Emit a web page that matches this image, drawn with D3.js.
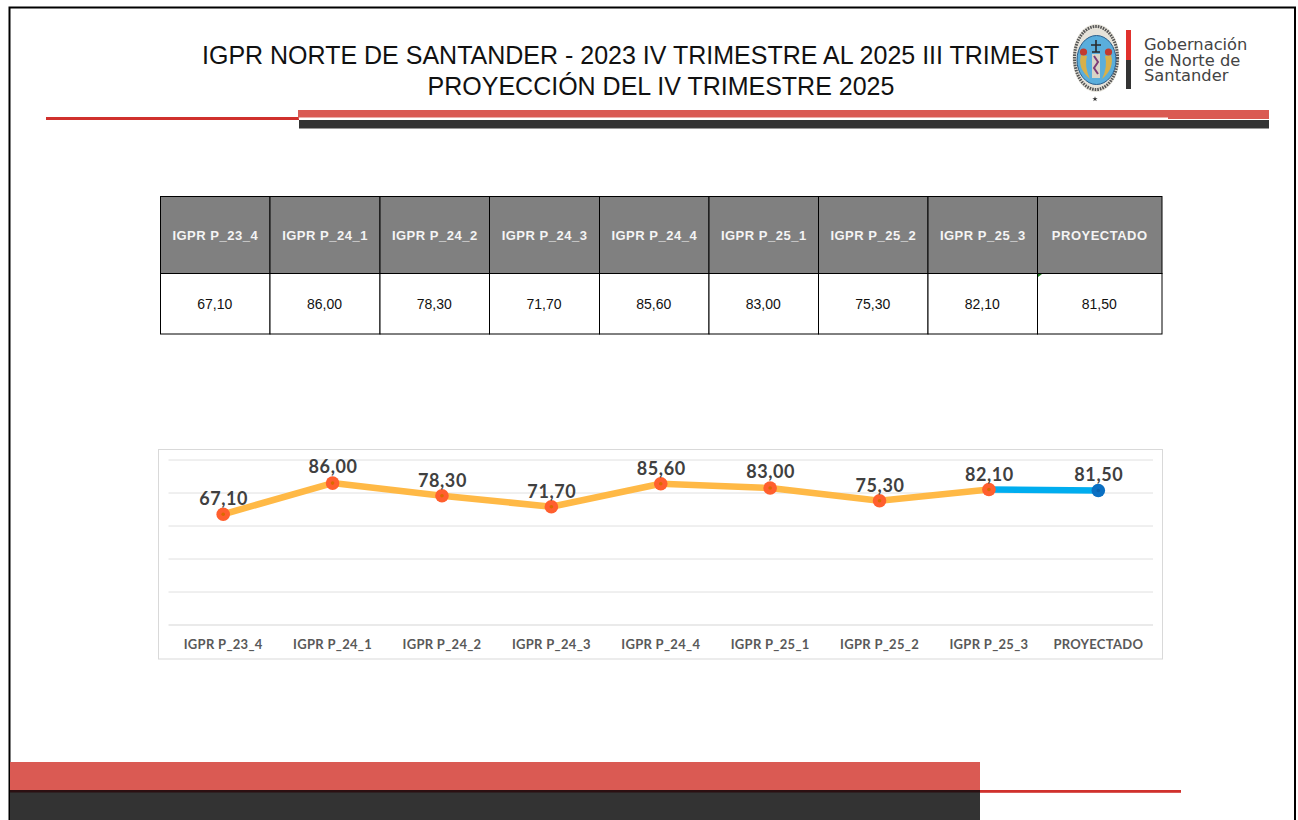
<!DOCTYPE html>
<html><head><meta charset="utf-8">
<script src="https://cdn.jsdelivr.net/npm/d3@7"></script>
<style>html,body{margin:0;padding:0;background:#fff;overflow:hidden}svg{display:block}</style>
</head><body><svg id="c" width="1298" height="820"></svg>
<script>
const categories = ["IGPR P_23_4","IGPR P_24_1","IGPR P_24_2","IGPR P_24_3","IGPR P_24_4","IGPR P_25_1","IGPR P_25_2","IGPR P_25_3","PROYECTADO"];
const values = [67.10,86.00,78.30,71.70,85.60,83.00,75.30,82.10,81.50];
const yTicks = [0,20,40,60,80,100];
const titleLines = ["IGPR NORTE DE SANTANDER - 2023 IV TRIMESTRE AL 2025 III TRIMEST","PROYECCIÓN DEL IV TRIMESTRE 2025"];
const logoLines = ["Gobernación","de Norte de","Santander"];

const fmt = v => v.toFixed(2).replace(".", ",");
const sans = "'Liberation Sans',Arial,sans-serif";
const chartFont = "Lato,'Open Sans',sans-serif";
const svg = d3.select("#c");
const rect = (x,y,w,h,f,o) => svg.append("rect").attr("x",x).attr("y",y).attr("width",w).attr("height",h).attr("fill",f).attr("opacity",o==null?1:o);

// frame
rect(0,0,1298,820,"#fff");
svg.append("path").attr("d","M9.5,820V7.5H1295V820").attr("fill","none").attr("stroke","#000").attr("stroke-width",2);

// header bands
rect(46,117,253,3,"#d0312d");
rect(298,110,971,9,"#da5a53");
rect(299,120,970,8.5,"#333");
rect(299,117.5,869,2.5,"#fff");

// title
svg.append("g").selectAll("text").data(titleLines).join("text")
  .attr("x",(d,i)=>i?661:202).attr("y",(d,i)=>i?95:64)
  .attr("text-anchor",(d,i)=>i?"middle":"start")
  .attr("font-family",sans).attr("font-size",25).attr("fill","#111").text(d=>d);

// logo
const logo = svg.append("g");
logo.append("ellipse").attr("cx",1096).attr("cy",58).attr("rx",23.5).attr("ry",34).attr("fill","#e6e3da");
logo.append("ellipse").attr("cx",1096).attr("cy",58).attr("rx",21.5).attr("ry",31.5).attr("fill","none").attr("stroke","#555").attr("stroke-width",3).attr("stroke-dasharray","1.6 1");
logo.append("ellipse").attr("cx",1096.5).attr("cy",60).attr("rx",19.5).attr("ry",24.5).attr("fill","#5aaedc").attr("stroke","#2b5e8c").attr("stroke-width",1);
logo.append("path").attr("d",d3.symbol(d3.symbolStar,9)()).attr("transform","translate(1095,99)").attr("fill","#333");
logo.append("rect").attr("x",1092).attr("y",54).attr("width",8).attr("height",24).attr("fill","#d8d4c6");
logo.append("path").attr("d","M1094,56 L1098,62 L1094,68 L1098,74").attr("fill","none").attr("stroke","#7d3b78").attr("stroke-width",2);
logo.append("path").attr("d","M1096,40V52M1091,45H1101M1092,52H1100").attr("stroke","#2a2a2a").attr("stroke-width",1.6).attr("fill","none");
logo.append("path").attr("d","M1081,55 Q1077,68 1090,79 Q1084,66 1087,56Z").attr("fill","#d8b04a");
logo.append("path").attr("d","M1111,55 Q1115,68 1102,79 Q1108,66 1105,56Z").attr("fill","#d8b04a");
logo.append("circle").attr("cx",1083.5).attr("cy",52).attr("r",3.6).attr("fill","#c23a2e");
logo.append("circle").attr("cx",1108.5).attr("cy",52).attr("r",3.6).attr("fill","#c23a2e");
logo.append("rect").attr("x",1126).attr("y",30).attr("width",5).attr("height",30).attr("fill","#e0312d");
logo.append("rect").attr("x",1126).attr("y",60).attr("width",5).attr("height",29).attr("fill","#333");
logo.append("text").attr("font-family","'DejaVu Sans',sans-serif").attr("font-size",16.3).attr("fill","#444")
  .selectAll("tspan").data(logoLines).join("tspan").attr("x",1144).attr("y",(d,i)=>50+i*15.5).text(d=>d);

// table
const colEdges = [160.5,270,380,489.5,599.5,709,818.5,928,1037.5,1162];
const tbl = svg.append("g");
tbl.selectAll("rect.h").data(categories).join("rect").attr("class","h")
  .attr("x",(d,i)=>colEdges[i]).attr("y",196.5).attr("width",(d,i)=>colEdges[i+1]-colEdges[i]).attr("height",77)
  .attr("fill","#808080").attr("stroke","#000").attr("stroke-width",1);
tbl.selectAll("rect.v").data(values).join("rect").attr("class","v")
  .attr("x",(d,i)=>colEdges[i]).attr("y",273.5).attr("width",(d,i)=>colEdges[i+1]-colEdges[i]).attr("height",60.5)
  .attr("fill","#fff").attr("stroke","#000").attr("stroke-width",1);
tbl.selectAll("text.h").data(categories).join("text").attr("class","h")
  .attr("x",(d,i)=>(colEdges[i]+colEdges[i+1])/2).attr("y",239.5)
  .attr("text-anchor","middle").attr("font-family",sans).attr("font-weight","bold").attr("font-size",13).attr("letter-spacing",0.5).attr("fill","#f4f4f4").text(d=>d);
tbl.selectAll("text.v").data(values).join("text").attr("class","v")
  .attr("x",(d,i)=>(colEdges[i]+colEdges[i+1])/2-0.5).attr("y",309)
  .attr("text-anchor","middle").attr("font-family",sans).attr("font-size",14).attr("fill","#111").text(fmt);
svg.append("path").attr("d","M1038,274h4l-4,3z").attr("fill","#1a7a1a");

// chart
svg.append("rect").attr("x",158.5).attr("y",449.5).attr("width",1004).attr("height",209.5).attr("fill","#fff").attr("stroke","#d9d9d9");
const x = d3.scaleBand().domain(categories).range([168.5,1153]);
const y = d3.scaleLinear().domain([0,100]).range([625,460]);
const cx = d => x(d)+x.bandwidth()/2;

svg.append("g").selectAll("line").data(yTicks).join("line")
  .attr("x1",168.5).attr("x2",1153).attr("y1",d=>y(d)).attr("y2",d=>y(d))
  .attr("stroke",d=>d===0?"#d5d5d5":"#e0e0e0").attr("stroke-width",1);

const axis = svg.append("g").attr("transform","translate(0,625)").call(d3.axisBottom(x).tickSize(0).tickPadding(15));
axis.select(".domain").remove();
axis.selectAll("text").attr("font-family",chartFont).attr("font-weight",700).attr("font-size",13).attr("letter-spacing",0.3).attr("fill","#595959");

const pts = categories.map((c,i)=>({c,v:values[i]}));
const line = d3.line().x(d=>cx(d.c)).y(d=>y(d.v));
const last = pts.length-1;
svg.append("path").attr("d",line(pts.slice(0,last))).attr("fill","none").attr("stroke","#ffb946").attr("stroke-width",6.5).attr("stroke-linejoin","round");
svg.append("path").attr("d",line(pts.slice(last-1))).attr("fill","none").attr("stroke","#00adef").attr("stroke-width",6.5);

const isLast = (d,i)=>i===last;
svg.append("g").selectAll("circle").data(pts).join("circle")
  .attr("cx",d=>cx(d.c)).attr("cy",d=>y(d.v)).attr("r",6.8)
  .attr("fill",(d,i)=>isLast(d,i)?"#0a6fc2":"#ff5f2e");
svg.append("g").selectAll("circle").data(pts).join("circle")
  .attr("cx",d=>cx(d.c)).attr("cy",d=>y(d.v)).attr("r",1.8)
  .attr("fill",(d,i)=>isLast(d,i)?"#0a62ad":"#d96a00");

const labelDy = [-9,-10,-9,-9,-9,-10,-9,-9,-10];
svg.append("g").selectAll("text").data(pts).join("text")
  .attr("x",d=>cx(d.c)+0.5).attr("y",(d,i)=>y(d.v)+labelDy[i])
  .attr("text-anchor","middle").attr("font-family",chartFont).attr("font-weight",700).attr("font-size",18).attr("letter-spacing",0.6).attr("fill","#404040").text(d=>fmt(d.v));

// footer
rect(10,762,970,29,"#da5a53");
rect(10,791,970,29,"#333");
rect(10,790,970,2.5,"#2b1012");
rect(980,790,201,2.8,"#d0312d");
</script></body></html>
